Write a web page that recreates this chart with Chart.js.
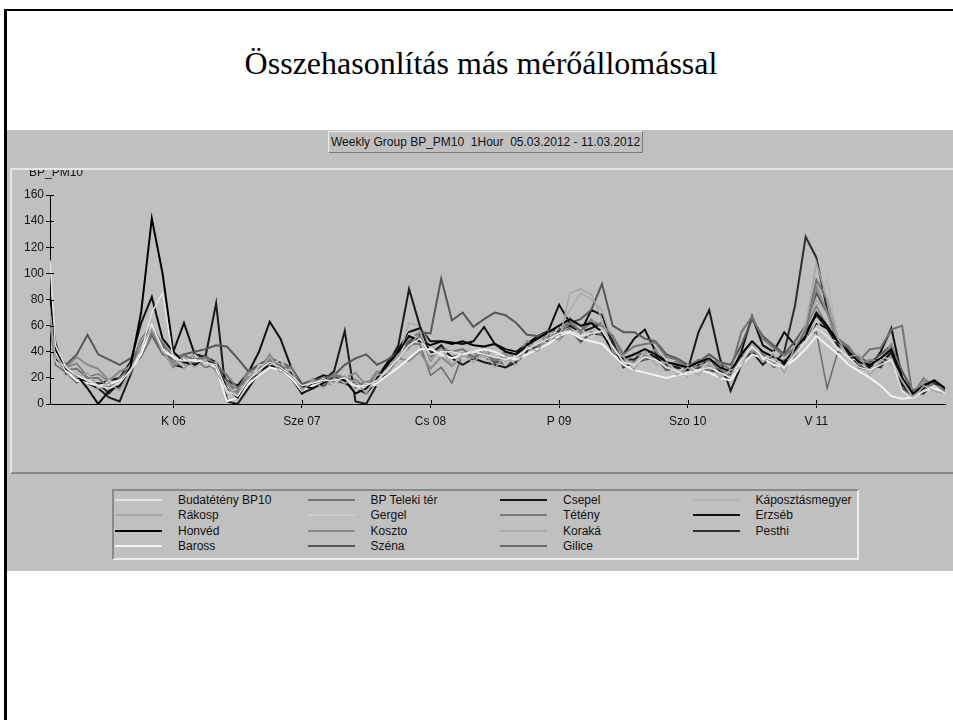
<!DOCTYPE html>
<html>
<head>
<meta charset="utf-8">
<script src="https://cdn.jsdelivr.net/npm/chart.js@4.4.1/dist/chart.umd.min.js"></script>
<style>
  html, body { margin: 0; padding: 0; background: #fff; width: 953px; height: 720px; overflow: hidden; }
  body { font-family: "Liberation Sans", Arial, sans-serif; position: relative; }
  #slide { position: absolute; left: 4px; top: 9px; width: 1000px; height: 800px; border-left: 3px solid #000; border-top: 2px solid #000; }
  #heading { position: absolute; left: 0; top: 44px; width: 962px; text-align: center; font: 32px "Liberation Serif", "Times New Roman", serif; line-height: 38px; color: #000; }
  #panel { position: absolute; left: 7px; top: 130px; width: 946px; height: 441px; background: #c0c0c0; }
  #titlebox { position: absolute; left: 328px; top: 131px; width: 311px; height: 20px; border: 1px solid; border-color: #ececec #7a7a7a #7a7a7a #ececec; font-size: 12px; line-height: 20px; padding-left: 2px; white-space: pre; color: #111; }
  #frame { position: absolute; left: 10px; top: 168px; width: 943px; height: 302px; border-top: 2px solid #e6e6e6; border-left: 2px solid #e6e6e6; border-bottom: 2px solid #858585; }
  #chart { position: absolute; left: 12px; top: 170px; }
  #legend { position: absolute; left: 112px; top: 489px; width: 742px; height: 66px; border: 2px solid; border-color: #8a8a8a #ececec #ececec #8a8a8a; padding: 1px 0 0 1px; box-sizing: content-box;
            display: grid; grid-template-rows: repeat(4, 15.5px); grid-auto-flow: column; grid-auto-columns: 192.5px; font-size: 12px; color: #111; }
  .item { display: flex; align-items: center; white-space: nowrap; }
  .swatch { width: 47px; margin-right: 16px; }
</style>
</head>
<body>
<div id="slide"></div>
<div id="heading">Összehasonlítás más mérőállomással</div>
<div id="panel"></div>
<div id="titlebox">Weekly Group BP_PM10  1Hour  05.03.2012 - 11.03.2012</div>
<div id="frame"></div>
<canvas id="chart" width="941" height="300"></canvas>
<div id="legend"></div>
<script>
// hours since 05.03.2012 00:00 (first reading 01:00, then every 2 hours)
const hours = [1, ...Array.from({ length: 84 }, (_, i) => 2 * (i + 1))];

// day ticks
const tickHours = [24, 48, 72, 96, 120, 144];
const tickLabels = ['K 06', 'Sze 07', 'Cs 08', 'P 09', 'Szo 10', 'V 11'];
const yCaption = 'BP_PM10';

// PM10 values, one row per day (Mon .. Sun)
const budatetenyBP10 = [
  110, 45, 28, 22, 18, 14, 12, 16, 26, 40, 70, 85,
  35, 33, 34, 32, 30, 10, 6, 18, 26, 32, 28, 22,
  14, 16, 18, 18, 20, 14, 14, 18, 26, 35, 45, 50,
  38, 40, 40, 38, 40, 38, 36, 34, 36, 42, 46, 50,
  54, 56, 52, 54, 56, 44, 32, 30, 36, 34, 28, 25,
  22, 26, 28, 24, 20, 34, 44, 36, 33, 28, 38, 48,
  58, 52, 42, 36, 28, 26, 30, 34, 10, 4, 10, 14, 8];
const rakosp = [
  70, 36, 28, 20, 24, 12, 16, 10, 24, 44, 58, 40,
  30, 36, 28, 34, 24, 12, 6, 20, 24, 36, 24, 26,
  10, 18, 12, 20, 16, 18, 8, 22, 24, 38, 42, 56,
  34, 42, 30, 38, 32, 40, 28, 36, 30, 44, 40, 54,
  48, 85, 88, 84, 65, 40, 36, 26, 40, 30, 32, 22,
  28, 22, 32, 20, 26, 28, 46, 32, 38, 24, 44, 60,
  108, 80, 50, 36, 38, 22, 34, 30, 18, 4, 14, 10, 8];
const honved = [
  85, 42, 27, 22, 12, 0, 10, 14, 28, 70, 142, 100,
  40, 32, 30, 33, 30, 12, 5, 18, 25, 32, 28, 22,
  14, 12, 16, 20, 18, 8, 12, 20, 30, 40, 52, 48,
  45, 48, 46, 48, 45, 44, 46, 40, 38, 45, 50, 55,
  60, 65, 60, 62, 55, 40, 35, 38, 42, 38, 32, 30,
  28, 32, 35, 28, 25, 38, 48, 40, 36, 32, 42, 52,
  70, 60, 48, 40, 32, 30, 35, 42, 20, 8, 14, 18, 12];
const baross = [
  80, 40, 25, 18, 16, 14, 15, 18, 25, 38, 60, 42,
  36, 34, 33, 32, 28, 2, 5, 15, 22, 28, 26, 20,
  10, 14, 16, 20, 18, 14, 12, 16, 22, 28, 35, 42,
  42, 38, 35, 38, 40, 42, 40, 36, 34, 38, 42, 46,
  52, 55, 50, 48, 46, 38, 30, 26, 24, 22, 20, 22,
  24, 26, 24, 20, 18, 30, 38, 35, 30, 28, 34, 42,
  52, 45, 38, 30, 25, 20, 14, 6, 4, 5, 10, 12, 8];
const telekiTer = [
  65, 37, 26, 27, 20, 20, 12, 20, 28, 44, 53, 47,
  36, 37, 34, 36, 30, 22, 12, 20, 24, 34, 28, 28,
  12, 18, 16, 22, 20, 17, 12, 20, 24, 37, 43, 52,
  36, 42, 40, 42, 36, 38, 33, 36, 34, 44, 44, 52,
  53, 62, 56, 62, 60, 52, 38, 44, 46, 47, 36, 34,
  28, 34, 33, 32, 26, 55, 67, 50, 43, 37, 43, 57,
  95, 80, 50, 44, 33, 42, 43, 57, 60, 5, 14, 14, 10];
const gergel = [
  65, 33, 27, 18, 22, 12, 18, 14, 30, 38, 62, 40,
  36, 28, 38, 30, 32, 8, 12, 16, 30, 30, 34, 20,
  14, 12, 20, 14, 24, 10, 16, 14, 30, 34, 54, 50,
  44, 36, 44, 34, 44, 34, 40, 30, 38, 38, 50, 46,
  60, 52, 58, 50, 62, 40, 36, 28, 42, 30, 34, 24,
  30, 24, 34, 20, 26, 30, 50, 34, 40, 26, 44, 46,
  64, 50, 48, 34, 34, 24, 36, 34, 18, 6, 15, 12, 10];
const koszto = [
  75, 44, 28, 36, 30, 27, 18, 25, 28, 45, 56, 42,
  28, 35, 30, 36, 26, 16, 8, 24, 25, 38, 26, 28,
  12, 19, 15, 23, 20, 24, 14, 25, 24, 35, 33, 40,
  27, 36, 29, 38, 35, 44, 34, 40, 35, 48, 44, 56,
  54, 66, 54, 64, 60, 52, 32, 38, 36, 42, 28, 32,
  22, 32, 26, 30, 18, 38, 40, 40, 30, 34, 36, 56,
  90, 70, 48, 44, 30, 34, 32, 46, 18, 8, 18, 14, 12];
const szena = [
  75, 40, 30, 38, 53, 38, 34, 30, 35, 42, 55, 40,
  35, 38, 40, 42, 45, 44, 35, 25, 30, 35, 32, 28,
  15, 18, 20, 22, 30, 35, 38, 30, 34, 40, 48, 55,
  54, 96, 64, 70, 59, 65, 70, 68, 62, 53, 52, 55,
  58, 62, 65, 72, 92, 60, 55, 55, 50, 48, 38, 35,
  30, 32, 38, 32, 30, 45, 65, 52, 45, 38, 48, 60,
  85, 70, 50, 42, 35, 32, 38, 45, 25, 10, 15, 18, 12];
const csepel = [
  70, 35, 26, 20, 16, 12, 5, 2, 22, 45, 60, 40,
  30, 28, 38, 36, 77, 2, 0, 12, 24, 30, 26, 20,
  8, 12, 18, 25, 56, 2, 0, 15, 30, 45, 88, 60,
  38, 45, 35, 30, 35, 32, 30, 28, 32, 40, 45, 50,
  56, 60, 55, 58, 62, 48, 34, 34, 40, 36, 30, 28,
  26, 55, 72, 35, 10, 30, 40, 30, 38, 30, 42, 55,
  68, 58, 46, 38, 28, 26, 30, 40, 15, 6, 10, 14, 8];
const teteny = [
  70, 42, 28, 31, 21, 23, 17, 25, 29, 50, 60, 46,
  31, 38, 33, 38, 29, 18, 10, 26, 27, 37, 27, 29,
  13, 19, 15, 21, 19, 19, 12, 23, 25, 39, 45, 55,
  33, 43, 35, 39, 35, 40, 33, 38, 33, 43, 41, 51,
  49, 59, 57, 65, 55, 49, 33, 39, 37, 41, 29, 33,
  25, 33, 29, 31, 21, 39, 39, 39, 29, 33, 39, 58,
  75, 60, 46, 43, 29, 33, 31, 43, 16, 8, 20, 13, 12];
const koraka = [
  72, 38, 30, 20, 23, 13, 16, 16, 30, 40, 64, 42,
  36, 30, 36, 29, 32, 8, 12, 18, 30, 31, 32, 21,
  14, 13, 19, 16, 22, 10, 14, 16, 30, 35, 62, 60,
  44, 41, 44, 37, 44, 37, 40, 32, 38, 39, 50, 49,
  58, 72, 85, 80, 72, 48, 37, 31, 42, 33, 32, 25,
  28, 25, 32, 23, 24, 33, 47, 35, 37, 27, 44, 52,
  80, 70, 48, 35, 32, 25, 34, 35, 18, 6, 14, 12, 10];
const gilice = [
  60, 30, 24, 16, 22, 14, 14, 12, 28, 36, 52, 38,
  34, 28, 34, 28, 30, 10, 10, 16, 26, 28, 30, 20,
  14, 12, 18, 14, 22, 14, 17, 18, 30, 34, 46, 46,
  22, 28, 16, 38, 40, 35, 33, 30, 32, 40, 45, 48,
  50, 58, 47, 55, 53, 48, 32, 33, 34, 37, 26, 29,
  22, 29, 26, 27, 18, 35, 38, 39, 28, 31, 38, 53,
  55, 12, 40, 38, 30, 25, 30, 36, 12, 5, 10, 14, 8];
const kaposztasmegyer = [
  68, 34, 28, 22, 22, 14, 16, 16, 30, 38, 60, 40,
  35, 30, 36, 30, 31, 10, 12, 18, 29, 31, 31, 22,
  14, 12, 18, 16, 22, 11, 14, 16, 29, 34, 50, 52,
  42, 40, 42, 36, 42, 36, 37, 31, 37, 40, 49, 48,
  57, 56, 57, 54, 60, 43, 34, 30, 40, 33, 32, 26,
  27, 26, 32, 23, 24, 33, 47, 36, 37, 28, 42, 48,
  72, 96, 50, 36, 32, 26, 34, 36, 17, 6, 14, 13, 10];
const erzseb = [
  75, 38, 25, 20, 16, 15, 18, 20, 32, 62, 82, 50,
  40, 62, 38, 36, 32, 18, 14, 24, 40, 63, 50, 28,
  15, 18, 22, 20, 22, 14, 15, 20, 32, 42, 55, 58,
  48, 48, 47, 46, 48, 59, 46, 42, 40, 46, 52, 56,
  76, 62, 55, 72, 68, 42, 38, 50, 57, 40, 32, 30,
  28, 30, 33, 25, 22, 40, 67, 45, 40, 55, 45, 50,
  62, 58, 45, 40, 30, 28, 40, 58, 20, 5, 12, 18, 10];
const pesthi = [
  80, 47, 23, 22, 16, 16, 8, 17, 26, 42, 58, 44,
  30, 32, 31, 32, 26, 16, 8, 20, 24, 36, 26, 24,
  8, 16, 14, 18, 16, 12, 8, 18, 24, 38, 46, 54,
  40, 42, 36, 38, 36, 38, 32, 32, 31, 42, 44, 50,
  50, 57, 48, 54, 53, 46, 28, 32, 34, 36, 26, 28,
  22, 28, 26, 24, 18, 36, 40, 38, 30, 40, 75, 128,
  112, 72, 45, 40, 28, 30, 28, 40, 12, 8, 8, 16, 8];

// station name, values, line colour, line width
const stations = [
  ['Budatétény BP10', budatetenyBP10, '#e4e4e4', 1.5],
  ['Rákosp', rakosp, '#a6a6a6', 1.5],
  ['Honvéd', honved, '#000000', 2],
  ['Baross', baross, '#f2f2f2', 2],
  ['BP Teleki tér', telekiTer, '#747474', 2],
  ['Gergel', gergel, '#cbcbcb', 1.5],
  ['Koszto', koszto, '#8a8a8a', 2],
  ['Széna', szena, '#575757', 2],
  ['Csepel', csepel, '#1a1a1a', 2],
  ['Tétény', teteny, '#7a7a7a', 1.5],
  ['Koraká', koraka, '#ababab', 1.5],
  ['Gilice', gilice, '#6a6a6a', 1.5],
  ['Káposztásmegyer', kaposztasmegyer, '#b6b6b6', 1.5],
  ['Erzséb', erzseb, '#0e0e0e', 2],
  ['Pesthi', pesthi, '#2e2e2e', 2],
];

const font = { family: '"Liberation Sans", Arial, sans-serif', size: 12 };

// inner half of the axis ticks plus the clipped axis caption
const axisExtras = {
  id: 'axisExtras',
  afterDraw(chart) {
    const { ctx, scales: { x, y } } = chart;
    ctx.save();
    ctx.strokeStyle = '#000';
    ctx.lineWidth = 1;
    ctx.beginPath();
    y.ticks.forEach(t => {
      const py = Math.round(y.getPixelForValue(t.value)) + 0.5;
      ctx.moveTo(y.right, py);
      ctx.lineTo(y.right + 4, py);
    });
    x.ticks.forEach(t => {
      const px = Math.round(x.getPixelForValue(t.value)) + 0.5;
      ctx.moveTo(px, x.top);
      ctx.lineTo(px, x.top - 4);
    });
    ctx.stroke();
    ctx.fillStyle = '#111';
    ctx.font = '12px "Liberation Sans", Arial, sans-serif';
    ctx.textBaseline = 'middle';
    ctx.fillText(yCaption, 17, 3);
    ctx.restore();
  }
};

const chart = new Chart(document.getElementById('chart'), {
  type: 'line',
  data: {
    datasets: stations.map(([label, values, color, width]) => ({
      label,
      data: values.map((v, i) => ({ x: hours[i], y: v })),
      borderColor: color,
      backgroundColor: color,
      borderWidth: width,
      pointRadius: 0,
      tension: 0,
    })),
  },
  options: {
    responsive: false,
    animation: false,
    events: [],
    layout: { padding: { top: 25, right: 8, left: 0, bottom: 0 } },
    plugins: { legend: { display: false }, tooltip: { enabled: false } },
    scales: {
      x: {
        type: 'linear',
        min: 1,
        max: 168,
        afterBuildTicks: s => { s.ticks = tickHours.map(v => ({ value: v })); },
        afterFit: s => { s.height = 66; },
        ticks: {
          color: '#111', font, padding: 6, maxRotation: 0, autoSkip: false,
          callback: v => tickLabels[tickHours.indexOf(v)],
        },
        grid: { display: true, drawOnChartArea: false, tickLength: 4, color: '#000' },
        border: { display: true, color: '#000' },
      },
      y: {
        min: 0,
        max: 160,
        afterFit: s => { s.width = 38; },
        ticks: {
          stepSize: 10, color: '#111', font, padding: 2,
          callback: v => (v % 20 === 0 ? v : ''),
        },
        grid: { display: true, drawOnChartArea: false, tickLength: 4, color: '#000' },
        border: { display: true, color: '#000' },
      },
    },
  },
  plugins: [axisExtras],
});

// legend in the boxed four-column layout
const legend = document.getElementById('legend');
chart.data.datasets.forEach(ds => {
  const item = document.createElement('div');
  item.className = 'item';
  const sw = document.createElement('span');
  sw.className = 'swatch';
  sw.style.height = Math.round(ds.borderWidth) + 'px';
  sw.style.background = ds.borderColor;
  const txt = document.createElement('span');
  txt.textContent = ds.label;
  item.appendChild(sw);
  item.appendChild(txt);
  legend.appendChild(item);
});
</script>
</body>
</html>
